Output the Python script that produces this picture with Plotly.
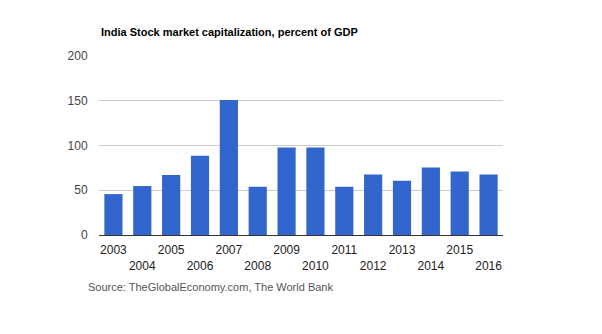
import plotly.graph_objects as go

years = ["2003", "2004", "2005", "2006", "2007", "2008", "2009", "2010",
         "2011", "2012", "2013", "2014", "2015", "2016"]
values = [45.7, 54.7, 67.0, 88.5, 150.7, 53.9, 97.8, 97.8,
          53.9, 67.6, 60.6, 75.4, 71.0, 67.6]
y_ticks = [0, 50, 100, 150, 200]

tick_text = [y if i % 2 == 0 else "<br>" + y for i, y in enumerate(years)]

font = "Arial, Liberation Sans, sans-serif"

fig = go.Figure(go.Bar(x=years, y=values, marker=dict(color="#3366CC", line=dict(width=0)),
                       hoverinfo="x+y"))

fig.update_layout(
    width=602, height=334,
    margin=dict(l=99, r=99, t=56, b=99),
    paper_bgcolor="white", plot_bgcolor="white",
    bargap=0.37,
    showlegend=False,
    font=dict(family=font, size=12, color="#444444"),
    xaxis=dict(type="category", tickvals=years, ticktext=tick_text, tickangle=0,
               showgrid=False, showline=True, linecolor="#333333", linewidth=1,
               ticks="outside", ticklen=4, tickcolor="rgba(0,0,0,0)",
               tickfont=dict(size=12, color="#222222")),
    yaxis=dict(range=[0, 200], tickvals=y_ticks, showgrid=True, gridcolor="#CCCCCC",
               zeroline=False, ticks="outside", ticklen=8, tickcolor="rgba(0,0,0,0)",
               tickfont=dict(size=12, color="#444444")),
    annotations=[
        dict(text="<b>India Stock market capitalization, percent of GDP</b>", xref="paper", yref="paper",
             x=0, y=1, yshift=24, xanchor="left", yanchor="middle", showarrow=False,
             font=dict(family=font, size=11, color="#000000")),
        dict(text="Source: TheGlobalEconomy.com, The World Bank", xref="paper", yref="paper",
             x=0, y=0, xshift=-13, yshift=-52, xanchor="left", yanchor="middle", showarrow=False,
             font=dict(family=font, size=11, color="#555555")),
    ],
)

fig.write_html("out.html")
